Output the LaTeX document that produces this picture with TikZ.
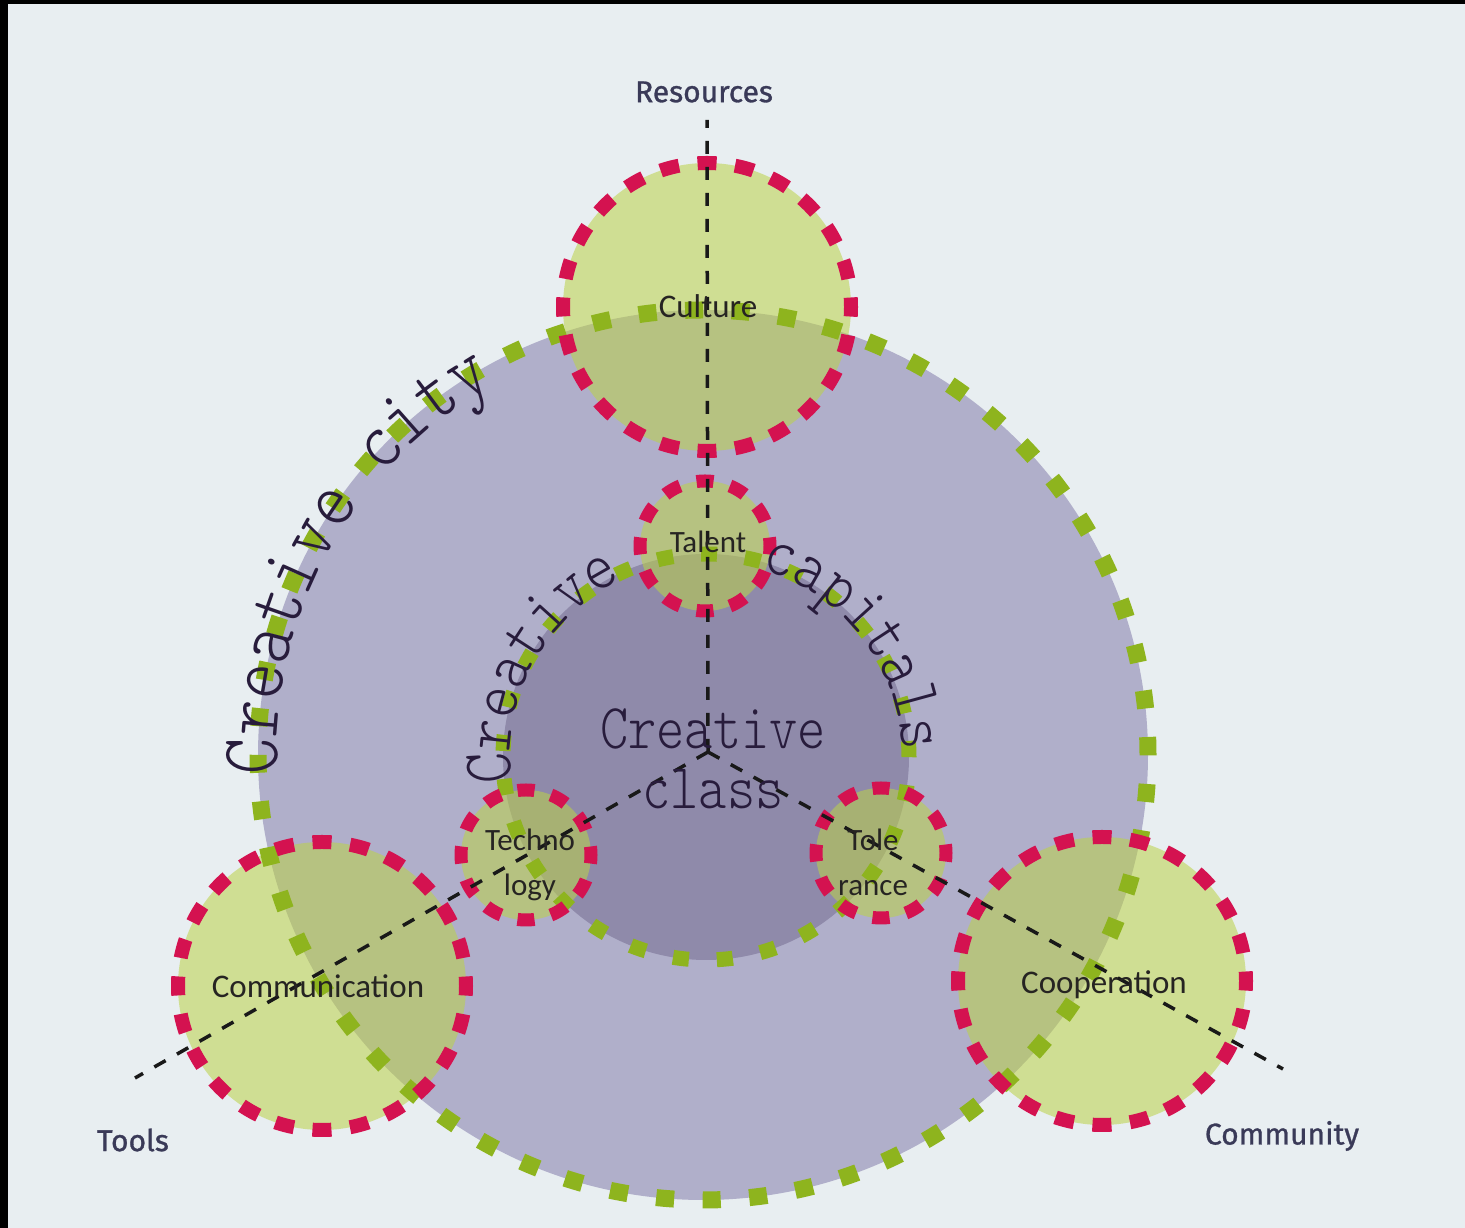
\documentclass[tikz,border=0pt]{standalone}
\usepackage{fontspec}
\setmainfont{Carlito}
\newfontfamily\axisfont[FakeBold=1]{Fira Sans}
\newfontfamily\slabfont[FakeStretch=0.84]{lmmonolt10-regular.otf}
\usetikzlibrary{decorations.text,calc}

\definecolor{paper}{RGB}{232,238,241}
\definecolor{city}{RGB}{176,175,202}
\definecolor{core}{RGB}{143,138,170}
\definecolor{lime}{RGB}{188,210,70}
\definecolor{limedot}{RGB}{142,180,30}
\definecolor{crimson}{RGB}{212,18,80}
\definecolor{ink}{RGB}{38,36,34}
\definecolor{axisink}{RGB}{58,58,88}
\definecolor{slab}{RGB}{40,28,60}

\tikzset{
  disc/.style={circle, inner sep=0pt, minimum size=#1},
  limedisc/.style={disc=#1, fill=lime, fill opacity=0.55},
  cityring/.style={draw=limedot, line width=17pt, dash pattern=on 18pt off 28.6pt},
  corering/.style={draw=limedot, line width=15pt, dash pattern=on 16pt off 27.98pt},
  bigring/.style={draw=crimson, line width=14pt, dash pattern=on 19pt off 18.7pt, dash phase=9.5pt},
  smallring/.style={draw=crimson, line width=13pt, dash pattern=on 17pt off 17.03pt, dash phase=8.5pt},
  axis/.style={draw=black!90, line width=3.5pt, dash pattern=on 13pt off 13pt},
  axislabel/.style={font=\axisfont\fontsize{30}{30}\selectfont, text=axisink, inner sep=0pt},
  biglabel/.style={font=\fontsize{33}{33}\selectfont, text=ink, inner sep=0pt},
  smalllabel/.style={font=\fontsize{31}{45}\selectfont, text=ink, inner sep=0pt, align=center},
}

\begin{document}
\begin{tikzpicture}[x=1pt, y=1pt]
    % Paper
    \fill[black] (0,0) rectangle (1465,1228);
    \fill[paper] (8,0) rectangle (1465,1224);

    % Nodes
    \node[disc=890pt, fill=city] at (703,473) (city) {};
    \node[disc=406pt, fill=core] at (706,471) (core) {};
    \node[limedisc=288pt] at (707,921) (culture) {};
    \node[limedisc=288pt] at (322,242) (communication) {};
    \node[limedisc=288pt] at (1102,247) (cooperation) {};
    \node[limedisc=130pt] at (705,682) (talent) {};
    \node[limedisc=130pt] at (526,373) (technology) {};
    \node[limedisc=130pt] at (881,375) (tolerance) {};

    % Rings
    \draw[cityring] (city.center) circle[radius=445];
    \draw[corering] (core.center) circle[radius=203];
    \draw[bigring] (culture.center) circle[radius=144];
    \draw[bigring] (communication.center) circle[radius=144];
    \draw[bigring] (cooperation.center) circle[radius=144];
    \draw[smallring] (talent.center) circle[radius=65];
    \draw[smallring] (technology.center) circle[radius=65];
    \draw[smallring] (tolerance.center) circle[radius=65];

    % Axes
    \coordinate (hub) at (708,476);
    \coordinate (restip) at (707,1108);
    \coordinate (toolstip) at (135,150);
    \coordinate (commtip) at (1283,159);
    \draw[axis] (hub) -- (restip);
    \draw[axis] (hub) -- (toolstip);
    \draw[axis] (hub) -- (commtip);

    \node[axislabel] at (704,1136) (reslbl) {Resources};
    \node[axislabel] at (133,88) (toolslbl) {Tools};
    \node[axislabel] at (1282,92) (commlbl) {Community};

    % Labels
    \node[biglabel] at (708,922) (culturelbl) {Culture};
    \node[biglabel] at (318,242) (communicationlbl) {Communication};
    \node[biglabel] at (1104,243) (cooperationlbl) {Cooperation};
    \node[smalllabel] at (708,686) (talentlbl) {Talent};
    \node[smalllabel] at (530,363) (technologylbl) {Techno\\logy};
    \node[smalllabel] at (873,366) (tolerancelbl) {Tole\\rance};

    \node[font=\slabfont\fontsize{64}{60}\selectfont, text=slab, align=center, inner sep=0pt]
        at (713,469) (corelbl) {Creative\\class};

    \path[decorate, decoration={text along path, text align=center, text color=slab,
        text={|\slabfont\fontsize{82}{82}\selectfont|Creative city}}]
        ($(city.center)+(191:426)$) arc[start angle=191, end angle=111, radius=426];
    \path[decorate, decoration={text along path, text align=center, text color=slab,
        text={|\slabfont\fontsize{70}{70}\selectfont|Creative}}]
        ($(core.center)+(201.5:196)$) arc[start angle=201.5, end angle=101.5, radius=196];
    \path[decorate, decoration={text along path, text align=center, text color=slab,
        text={|\slabfont\fontsize{70}{70}\selectfont|capitals}}]
        ($(core.center)+(87.8:196)$) arc[start angle=87.8, end angle=-12.2, radius=196];
\end{tikzpicture}
\end{document}
